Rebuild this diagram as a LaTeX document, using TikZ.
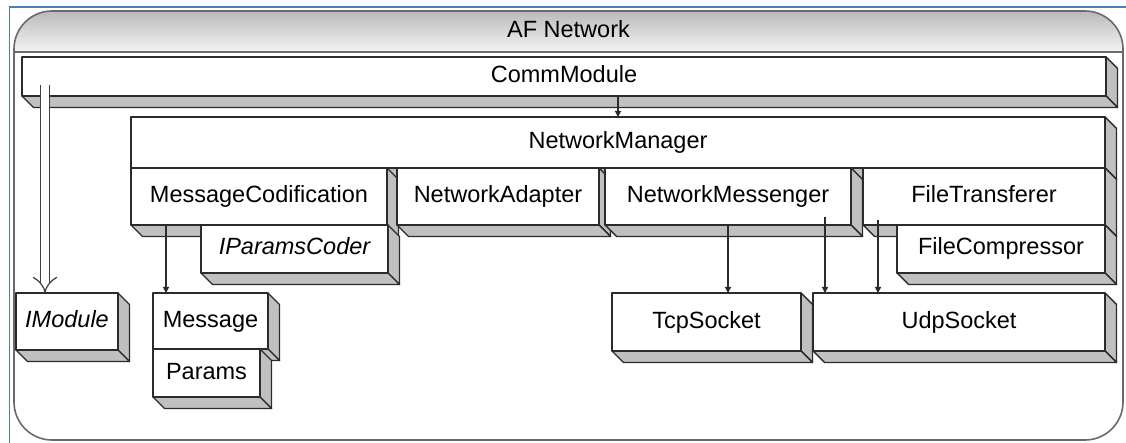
\documentclass[tikz,border=0pt]{standalone}
\usepackage{fontspec}
\setmainfont{Liberation Sans}
\usetikzlibrary{arrows.meta}
\definecolor{sidegray}{HTML}{C0C0C0}
\definecolor{edgecol}{HTML}{2B2B2B}
\definecolor{framecol}{HTML}{6A6A6A}
\definecolor{bluefr}{HTML}{4F7FB8}
\tikzset{
  boxedge/.style={draw=edgecol, line width=1.4pt, line join=round},
  sideface/.style={boxedge, fill=sidegray},
  frontface/.style={boxedge, fill=white, rectangle, inner sep=0pt, outer sep=0pt,
    font=\fontsize{23.5}{28}\selectfont, text height=17pt, text depth=5pt},
  conn/.style={draw=edgecol, line width=1.2pt, -{Triangle[length=6pt,width=6pt]}},
  realize/.style={draw=black!75, line width=1.2pt, double distance=7.6pt, -{Implies}},
  headtext/.style={font=\fontsize{23.5}{28}\selectfont, text height=17pt, text depth=5pt, inner sep=0pt},
}
\newcommand\dd{11.5}
% name, x0, y0, x1, y1, text
\newcommand\tdbox[6]{%
  \path[sideface] (#4,#3) -- (#4+\dd,#3+\dd) -- (#4+\dd,#5+\dd) -- (#4,#5) -- cycle;
  \path[sideface] (#2,#5) -- (#4,#5) -- (#4+\dd,#5+\dd) -- (#2+\dd,#5+\dd) -- cycle;
  \node[frontface, minimum width={(#4-#2)*1pt}, minimum height={(#5-#3)*1pt}] (#1)
    at ({(#2+#4)/2},{(#3+#5)/2}) {#6};
}
\begin{document}
\begin{tikzpicture}[x=1pt, y=-1pt]
\useasboundingbox (0,0) rectangle (1126,443);
% page frame
\draw[bluefr, line width=1.5pt] (9.5,443) -- (9.5,7) -- (1126,7);
% AF Network container
\begin{scope}
  \clip[rounded corners=38pt] (14,11) rectangle (1123,440);
  \shade[top color=black!27, bottom color=black!4] (14,11) rectangle (1123,52);
\end{scope}
\node[draw=framecol, line width=1.6pt, rounded corners=38pt, minimum width=1109pt,
  minimum height=429pt, inner sep=0pt] (afnet) at (568.5,225.5) {};
\draw[framecol, line width=2pt] (afnet.west |- 0,52) -- (afnet.east |- 0,52);
\node[headtext] (afname) at (568.5,31.5) {AF Network};
% boxes
\tdbox{cm}{22}{57}{1106}{96}{CommModule}
\tdbox{nm}{131}{117}{1105}{168}{NetworkManager}
\tdbox{mc}{131}{168}{387}{225}{MessageCodification}
\tdbox{ipc}{201}{225}{388}{273}{\itshape IParamsCoder}
\tdbox{na}{397}{168}{599}{225}{NetworkAdapter}
\tdbox{nmsg}{605}{168}{851}{225}{NetworkMessenger}
\tdbox{ft}{863}{168}{1105}{225}{FileTransferer}
\tdbox{fc}{897}{225}{1105}{273}{FileCompressor}
\tdbox{imod}{16}{293}{118}{350}{\itshape IModule}
\tdbox{msg}{153}{293}{268}{349}{Message}
\tdbox{par}{153}{349}{260}{397}{Params}
\tdbox{tcp}{612}{293}{801}{351}{TcpSocket}
\tdbox{udp}{813}{293}{1105}{351}{UdpSocket}
% connectors
\coordinate (cmtap) at (45,85);
\coordinate (mctap) at ([xshift=-93pt]mc.south);
\coordinate (nmtap) at (825,217);
\coordinate (fttap) at (878,220);
\draw[realize] (cmtap) -- (cmtap |- imod.north);
\draw[conn] (cm.south -| nm.north) -- (nm.north);
\draw[conn] (mctap) -- (mctap |- msg.north);
\draw[conn] (nmsg.south) -- (nmsg.south |- tcp.north);
\draw[conn] (nmtap) -- (nmtap |- udp.north);
\draw[conn] (fttap) -- (fttap |- udp.north);
\end{tikzpicture}
\end{document}
